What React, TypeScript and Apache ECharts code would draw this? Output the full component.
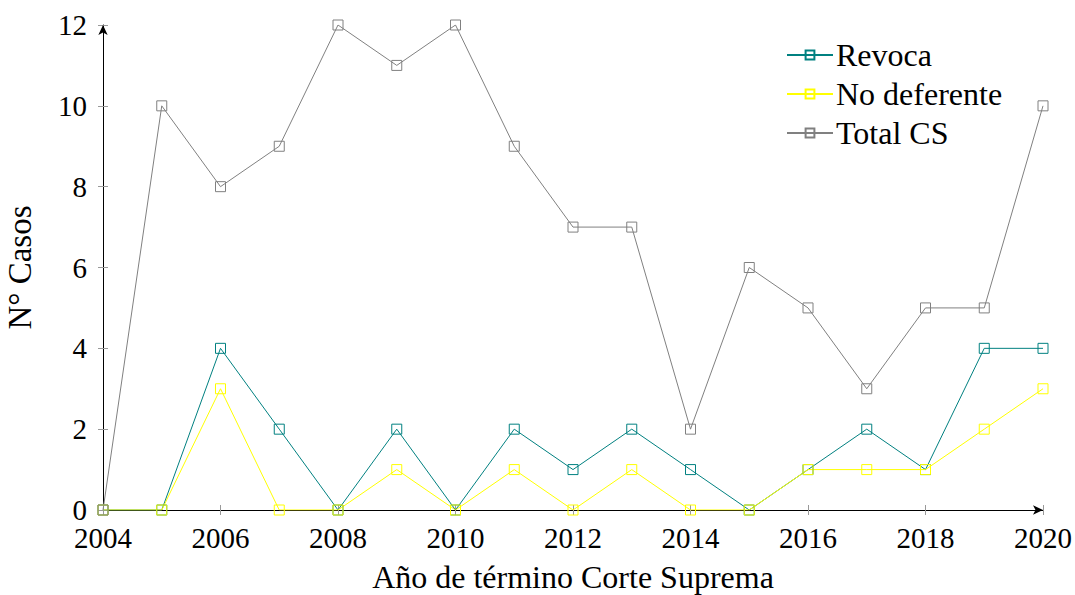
import React, { useEffect, useRef } from "react";
import * as echarts from "echarts";

const years = [2004, 2005, 2006, 2007, 2008, 2009, 2010, 2011, 2012, 2013, 2014, 2015, 2016, 2017, 2018, 2019, 2020];
const revoca = [0, 0, 4, 2, 0, 2, 0, 2, 1, 2, 1, 0, 1, 2, 1, 4, 4];
const noDeferente = [0, 0, 3, 0, 0, 1, 0, 1, 0, 1, 0, 0, 1, 1, 1, 2, 3];
const totalCS = [0, 10, 8, 9, 12, 11, 12, 9, 7, 7, 2, 6, 5, 3, 5, 5, 10];

const FONT = "'Liberation Serif', 'DejaVu Serif', serif";

function mk(name: string, vals: number[], color: string) {
  return {
    name,
    type: "line",
    data: years.map((y, i) => [y, vals[i]]),
    symbol: "rect",
    symbolSize: 10,
    showSymbol: true,
    color,
    lineStyle: { color, width: 1 },
    itemStyle: { color: "rgba(0,0,0,0)", borderColor: color, borderWidth: 1 },
    emphasis: { disabled: true },
    z: 3,
  };
}

export default function App() {
  const ref = useRef<HTMLDivElement>(null);
  useEffect(() => {
    const chart = echarts.init(ref.current!, null, { renderer: "svg" });
    const tickStyle = { color: "#999", width: 1 };
    chart.setOption({
      animation: false,
      textStyle: { fontFamily: FONT },
      grid: { left: 103, right: 32, top: 25, bottom: 85, containLabel: false, outerBoundsMode: "none" },
      legend: {
        orient: "vertical",
        left: 781,
        top: 34,
        itemWidth: 46,
        itemHeight: 11,
        itemGap: 7,
        textStyle: { fontFamily: FONT, fontSize: 32, lineHeight: 26, color: "#000", padding: [0, 0, 0, -2] },
        data: ["Revoca", "No deferente", "Total CS"],
      },
      xAxis: [
        {
          type: "value",
          min: 2004,
          max: 2020,
          interval: 2,
          position: "bottom",
          name: "Año de término Corte Suprema",
          nameLocation: "middle",
          nameGap: 52,
          nameTextStyle: { fontFamily: FONT, fontSize: 32, lineHeight: 30, color: "#000" },
          axisLine: { show: true, lineStyle: { color: "#000", width: 1 }, symbol: ["none", "arrow"], symbolSize: [7, 10] },
          axisTick: { show: true, length: 5, lineStyle: tickStyle },
          axisLabel: { fontFamily: FONT, fontSize: 29, lineHeight: 22, color: "#000", margin: 17, formatter: (v: number) => String(v) },
          splitLine: { show: false },
        },
        {
          type: "value",
          min: 2004,
          max: 2020,
          interval: 2,
          position: "bottom",
          axisLine: { show: false },
          axisTick: { show: true, inside: true, length: 5, lineStyle: tickStyle },
          axisLabel: { show: false },
          splitLine: { show: false },
        },
      ],
      yAxis: [
        {
          type: "value",
          min: 0,
          max: 12,
          interval: 2,
          position: "left",
          name: "N° Casos",
          nameLocation: "middle",
          nameRotate: 90,
          nameGap: 67,
          nameTextStyle: { fontFamily: FONT, fontSize: 33, color: "#000" },
          axisLine: { show: true, lineStyle: { color: "#000", width: 1 }, symbol: ["none", "arrow"], symbolSize: [7, 10] },
          axisTick: { show: true, length: 5, lineStyle: tickStyle },
          axisLabel: { fontFamily: FONT, fontSize: 29, lineHeight: 22, color: "#000", margin: 16, padding: [0, 0, 4, 0], showMinLabel: true },
          splitLine: { show: false },
        },
        {
          type: "value",
          min: 0,
          max: 12,
          interval: 2,
          position: "left",
          axisLine: { show: false },
          axisTick: { show: true, inside: true, length: 5, lineStyle: tickStyle },
          axisLabel: { show: false },
          splitLine: { show: false },
        },
      ],
      series: [
        mk("Revoca", revoca, "#008080"),
        mk("No deferente", noDeferente, "#ffff00"),
        mk("Total CS", totalCS, "#808080"),
      ],
    });
    return () => chart.dispose();
  }, []);
  return <div ref={ref} style={{ width: 1075, height: 595, position: "absolute", left: 0, top: 0, background: "#fff" }} />;
}
